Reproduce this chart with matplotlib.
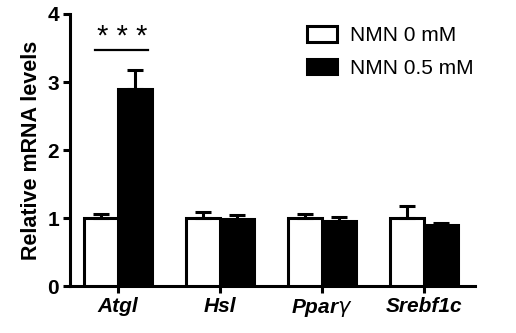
import numpy as np
import matplotlib.pyplot as plt

plt.rcParams['font.family'] = ['Liberation Sans', 'DejaVu Sans']

genes = ['Atgl', 'Hsl', r'Ppar$\gamma$', 'Srebf1c']
ctrl_mean = [1.0, 1.0, 1.0, 1.0]
ctrl_err = [0.06, 0.09, 0.06, 0.18]
nmn_mean = [2.90, 0.98, 0.95, 0.90]
nmn_err = [0.28, 0.07, 0.06, 0.02]
series_labels = ['NMN 0 mM', 'NMN 0.5 mM']

fig = plt.figure(figsize=(5.16, 3.33), dpi=100)
ax = fig.add_axes([0.1357, 0.141, 0.785, 0.817])

x = np.arange(len(genes))
w = 0.335
lw = 2.2

ax.bar(x - w / 2, ctrl_mean, w, color='white', edgecolor='black', linewidth=lw,
       yerr=[np.zeros(4), ctrl_err], capsize=6,
       error_kw=dict(elinewidth=lw, capthick=lw, ecolor='black'),
       label=series_labels[0], zorder=3)
ax.bar(x + w / 2, nmn_mean, w, color='black', edgecolor='black', linewidth=lw,
       yerr=[np.zeros(4), nmn_err], capsize=6,
       error_kw=dict(elinewidth=lw, capthick=lw, ecolor='black'),
       label=series_labels[1], zorder=2)

# significance marker
ax.plot([x[0] - 0.23, x[0] + 0.29], [3.47, 3.47], color='black', lw=1.6)
ax.text(x[0] + 0.04, 3.46, '* * *', ha='center', va='bottom', fontsize=21)

ax.set_xlim(-0.47, 3.5)
ax.set_ylim(0, 4)
ax.set_yticks([0, 1, 2, 3, 4])
ax.set_xticks(x)
ax.set_xticklabels(genes, fontweight='bold', fontstyle='italic', fontsize=15)
for t in ax.get_yticklabels():
    t.set_fontweight('bold')
    t.set_fontsize(15)
ax.set_ylabel('Relative mRNA levels', fontweight='bold', fontsize=15.5, labelpad=4)

for s in ['top', 'right']:
    ax.spines[s].set_visible(False)
for s in ['left', 'bottom']:
    ax.spines[s].set_linewidth(lw)
ax.tick_params(axis='both', width=lw, length=5, pad=3)

leg = ax.legend(loc='upper left', bbox_to_anchor=(0.567, 0.965),
                bbox_transform=fig.transFigure, frameon=False,
                fontsize=15, handlelength=1.45, handleheight=0.75,
                handletextpad=0.6, labelspacing=0.65, borderpad=0.2)

fig.savefig('out.png', dpi=100)
